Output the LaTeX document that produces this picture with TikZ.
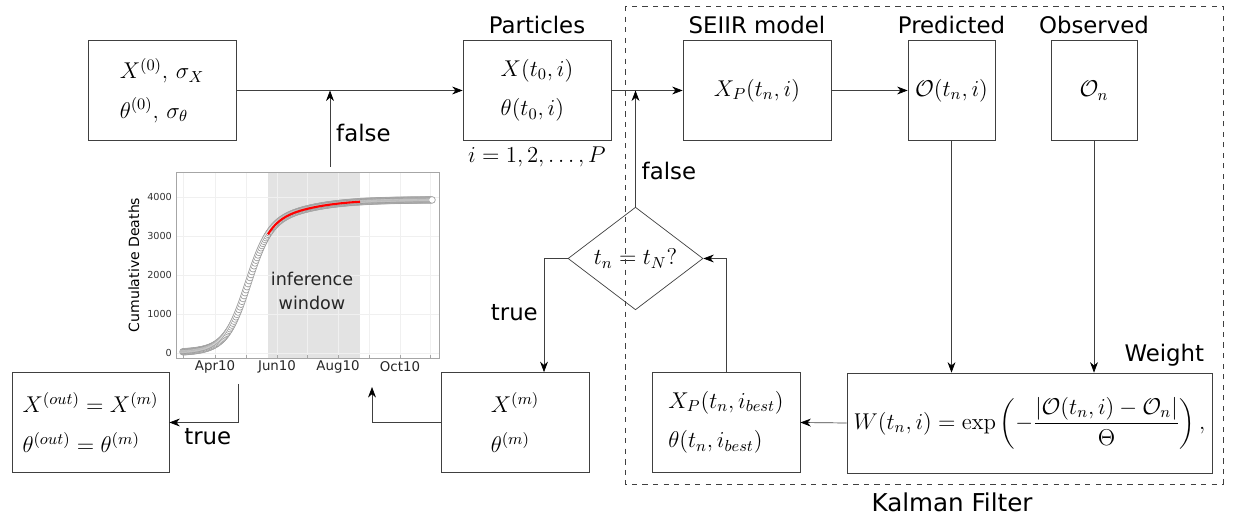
\RequirePackage{fix-cm}
\documentclass[tikz,border=0pt]{standalone}
\usepackage[no-math]{fontspec}
\setmainfont{DejaVu Sans}
\usepackage{amsmath}
\usetikzlibrary{shapes,arrows.meta,positioning,calc}

\begin{document}
\begin{tikzpicture}[x=0.02cm, y=-0.02cm,
    box/.style={rectangle, draw=black!75, minimum width=2.96cm, minimum height=2cm, align=left, font=\fontsize{13}{16}\selectfont},
    decision/.style={diamond, draw=black!75, minimum width=2.7cm, minimum height=1.98cm, inner sep=0pt, font=\fontsize{13}{16}\selectfont},
    lbl/.style={font=\fontsize{13}{16}\selectfont},
    arrow/.style={-{Stealth[length=6pt, width=4.5pt, black]}, draw=black!75},
    ytick/.style={font=\fontsize{5.5}{6}\selectfont, text=black!80, anchor=east, inner sep=1pt},
    xtick/.style={font=\fontsize{7.6}{8}\selectfont, text=black!85},
    declare function={cum(\t)=3250/(1+exp(-(\t-33)/11))+680/(1+exp(-(\t-70)/30));}
]
\useasboundingbox (0,0) rectangle (1233,519);

% Inset plot
\fill[gray!22] (268,172) rectangle (360,358);
\foreach \gx in {183,215,246,277,307,338,369,400,430}
  \draw[gray!12] (\gx,172) -- (\gx,358);
\foreach \gy in {353,314,275,236,197}
  \draw[gray!12] (176,\gy) -- (439,\gy);
\foreach \gx in {183,215,246,277,307,338,369,400,430}
  \draw[gray!70] (\gx,358) -- (\gx,355);
\draw[gray!70] (176,172) rectangle (439,358);
\foreach \v/\gy in {0/353,1000/314,2000/275,3000/236,4000/197}
  \node[ytick] at (174,\gy) {\v};
\foreach \m/\gx in {Apr10/215,Jun10/277,Aug10/338,Oct10/400}
  \node[xtick] at (\gx,367) {\m};
\node[rotate=90, font=\fontsize{8}{9}\selectfont] at (134,265) {Cumulative Deaths};
\node[align=center, font=\fontsize{10}{14}\selectfont, text=black!85] at (312,291) {inference\\window};
\draw plot[only marks, mark=*, mark size=1.9pt, mark options={draw=gray!75, fill=white, line width=0.4pt}, domain=-32:217, samples=250] ({215+\x},{353-0.039*cum(\x)});
\draw[red, line width=1.2pt] plot[domain=53:145, samples=60] ({215+\x},{353-0.039*cum(\x)});

\coordinate (plottop) at (330,167);
\coordinate (plotbl) at (238,384);
\coordinate (plotbr) at (372,387);

% Boxes
\node[box] (init) at (162,90.5) {$X^{(0)},\,\sigma_X$\\[6.5pt]$\theta^{(0)},\,\sigma_\theta$};
\node[box] (part) at (537,90.5) {$X(t_0,i)$\\[6.5pt]$\theta(t_0,i)$};
\node[box] (seiir) at (757,90.5) {$X_P(t_n,i)$};
\node[box, minimum width=1.74cm] (pred) at (951.5,90.5) {$\mathcal{O}(t_n,i)$};
\node[box, minimum width=1.72cm] (obs) at (1094,90.5) {$\mathcal{O}_n$};
\node[box, minimum width=7.3cm] (weight) at (1029.5,423) {$W(t_n,i)=\exp\left(-\dfrac{|\mathcal{O}(t_n,i)-\mathcal{O}_n|}{\Theta}\right),$};
\node[box] (best) at (726,422.5) {$X_P(t_n,i_{best})$\\[6.5pt]$\theta(t_n,i_{best})$};
\node[box] (xm) at (515,422.5) {$X^{(m)}$\\[6.5pt]$\theta^{(m)}$};
\node[box, minimum width=3.14cm] (out) at (90.5,422.5) {$X^{(out)}=X^{(m)}$\\[6.5pt]$\theta^{(out)}=\theta^{(m)}$};
\node[decision] (dec) at (635.5,258.5) {$t_n=t_N?$};

% Labels
\node[lbl, above=0pt of part] {Particles};
\node[lbl, above=0pt of seiir] {SEIIR model};
\node[lbl, above=0pt of pred] {Predicted};
\node[lbl, above=0pt of obs] {Observed};
\node[lbl, below=0pt of part] {$i=1,2,\ldots,P$};
\node[lbl, anchor=south east] at ($(weight.north east)+(-2,0)$) {Weight};
\node[font=\fontsize{14}{16}\selectfont] at (952,502) {Kalman Filter};

% Kalman filter frame
\draw[dashed, black!75] (625,6) rectangle (1223,484);

% Arrows
\draw[arrow] (init.east) -- (part.west);
\draw[arrow] (plottop) -- node[lbl, right, pos=0.45] {false} (plottop |- init.east);
\draw[arrow] (part.east) -- (seiir.west);
\draw[arrow] (dec.north) -- node[lbl, right, pos=0.31] {false} (dec.north |- seiir.west);
\draw[arrow] (seiir.east) -- (pred.west);
\draw[arrow] (pred.south) -- (pred.south |- weight.north);
\draw[arrow] (obs.south) -- (obs.south |- weight.north);
\draw[arrow] (weight.west) -- (best.east);
\draw[arrow] (best.north) |- (dec.east);
\draw[arrow] (dec.west) -| node[lbl, left, pos=0.74] {true} ($(xm.north)+(29,0)$);
\draw[arrow] (xm.west) -| (plotbr);
\draw[arrow] (plotbl) |- node[lbl, below, pos=0.72] {true} (out.east);

\end{tikzpicture}
\end{document}
